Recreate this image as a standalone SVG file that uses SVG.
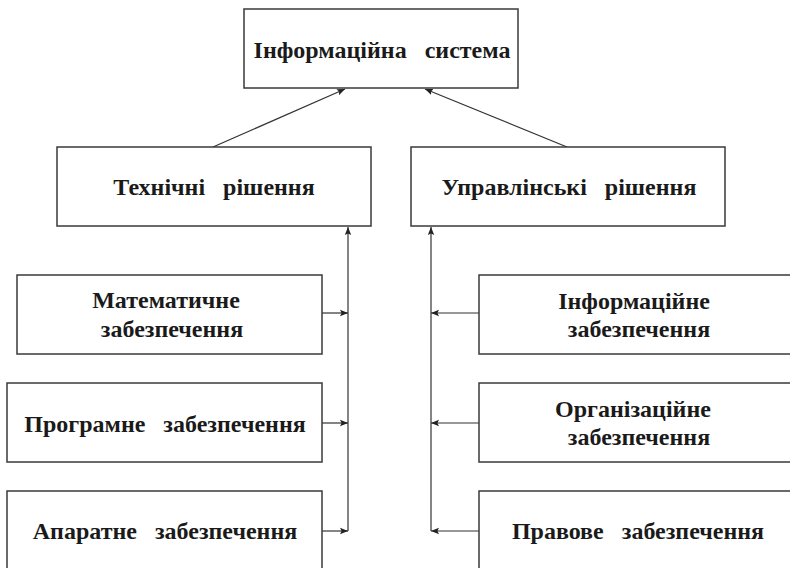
<svg xmlns="http://www.w3.org/2000/svg" width="790" height="568" viewBox="0 0 790 568">
<style>
.box{fill:#fff;stroke:#3a3a3a;stroke-width:1.5}
.c{stroke:#333;stroke-width:1.2;fill:none}
</style>
<defs>
<marker id="ah" viewBox="0 0 10 10" refX="10" refY="5" markerWidth="8" markerHeight="8" markerUnits="userSpaceOnUse" orient="auto">
<path d="M0,1 L10,5 L0,9 L2,5 Z" fill="#222"/>
</marker>
</defs>
<rect width="790" height="568" fill="#fff"/>
<g id="connectors">
<line class="c" x1="213" y1="147" x2="345" y2="89" marker-end="url(#ah)"/>
<line class="c" x1="567" y1="147" x2="425" y2="89" marker-end="url(#ah)"/>
<line class="c" x1="348" y1="531" x2="348" y2="227" marker-end="url(#ah)"/>
<line class="c" x1="431" y1="531" x2="431" y2="227" marker-end="url(#ah)"/>
<line class="c" x1="322" y1="313" x2="348" y2="313" marker-end="url(#ah)"/>
<line class="c" x1="322" y1="423" x2="348" y2="423" marker-end="url(#ah)"/>
<line class="c" x1="322" y1="531" x2="348" y2="531" marker-end="url(#ah)"/>
<line class="c" x1="479" y1="313" x2="431" y2="313" marker-end="url(#ah)"/>
<line class="c" x1="479" y1="423" x2="431" y2="423" marker-end="url(#ah)"/>
<line class="c" x1="479" y1="531" x2="431" y2="531" marker-end="url(#ah)"/>
</g>
<g font-family="'Liberation Serif', 'Times New Roman', serif" font-weight="bold" font-size="24" fill="#1a1a1a" text-anchor="middle">
<g id="info-system">
<rect class="box" x="244" y="9" width="274" height="79"/>
<text x="382" y="58" xml:space="preserve">Інформаційна   система</text>
</g>
<g id="tech">
<rect class="box" x="57" y="147" width="314" height="79"/>
<text x="214" y="195" xml:space="preserve">Технічні   рішення</text>
</g>
<g id="mgmt">
<rect class="box" x="411" y="147" width="314" height="79"/>
<text x="569" y="195" xml:space="preserve">Управлінські   рішення</text>
</g>
<g id="math">
<rect class="box" x="17" y="275" width="305" height="79"/>
<text x="166" y="308">Математичне</text>
<text x="172" y="337">забезпечення</text>
</g>
<g id="prog">
<rect class="box" x="7" y="383" width="315" height="79"/>
<text x="165" y="432" xml:space="preserve">Програмне   забезпечення</text>
</g>
<g id="hw">
<rect class="box" x="7" y="491" width="315" height="80"/>
<text x="165" y="539" xml:space="preserve">Апаратне   забезпечення</text>
</g>
<g id="infosup">
<rect class="box" x="479" y="275" width="320" height="79"/>
<text x="634" y="309">Інформаційне</text>
<text x="639" y="337">забезпечення</text>
</g>
<g id="org">
<rect class="box" x="479" y="383" width="320" height="79"/>
<text x="633" y="417">Організаційне</text>
<text x="639" y="445">забезпечення</text>
</g>
<g id="law">
<rect class="box" x="479" y="491" width="320" height="80"/>
<text x="638" y="539" xml:space="preserve">Правове   забезпечення</text>
</g>
</g>
</svg>
